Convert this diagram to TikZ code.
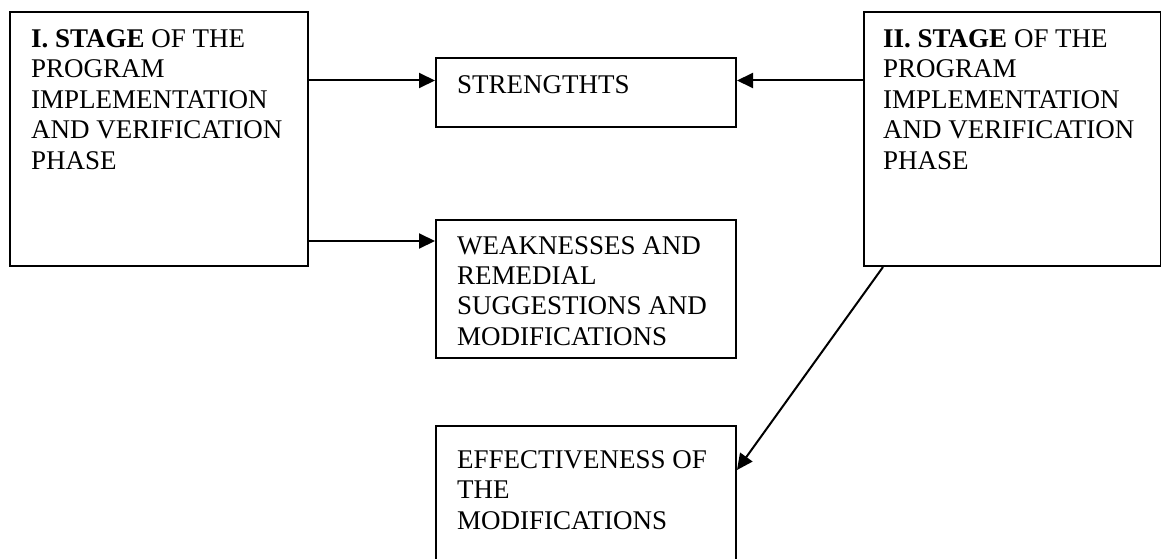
\documentclass[tikz,border=0pt]{standalone}
\usepackage{fontspec}
\setmainfont{Liberation Serif}
\usetikzlibrary{arrows.meta,calc}
\begin{document}
\begin{tikzpicture}[x=1pt,y=-1pt,
  frame/.style={draw=black,line width=2pt,rectangle,inner sep=0pt,anchor=north west},
  label/.style={anchor=north west,inner sep=0pt,align=left,font=\fontsize{27pt}{30.4pt}\selectfont},
  arr/.style={draw=black,line width=2pt,-{Triangle[length=16pt,width=15pt]}}]
\useasboundingbox (0,0) rectangle (1161,559);
% boxes
\node[frame,minimum width=298pt,minimum height=254pt] (b1) at (9,11) {};
\node[frame,minimum width=300pt,minimum height=69pt] (b2) at (435,57.5) {};
\node[frame,minimum width=300pt,minimum height=138pt] (b3) at (435,219) {};
\node[frame,minimum width=297pt,minimum height=254pt] (b4) at (863,11) {};
\node[frame,minimum width=300pt,minimum height=150pt] (b5) at (435,425) {};
% texts
\node[label] (t1) at ($(b1.north west)+(22,18.5)$) {\textbf{I. STAGE} OF THE\\PROGRAM\\IMPLEMENTATION\\AND VERIFICATION\\PHASE};
\node[label] (t2) at ($(b2.north west)+(22,18)$) {STRENGTHTS};
\node[label] (t3) at ($(b3.north west)+(22,17)$) {WEAKNESSES AND\\REMEDIAL\\SUGGESTIONS AND\\MODIFICATIONS};
\node[label] (t4) at ($(b4.north west)+(20,18.5)$) {\textbf{II. STAGE} OF THE\\PROGRAM\\IMPLEMENTATION\\AND VERIFICATION\\PHASE};
\node[label] (t5) at ($(b5.north west)+(22,25.5)$) {EFFECTIVENESS OF\\THE\\MODIFICATIONS};
% connectors
\coordinate (e1) at ($(b2.north west)+(0,23)$);
\coordinate (e2) at ($(b3.north west)+(0,22)$);
\coordinate (e3) at ($(b2.north east)+(0,23)$);
\coordinate (s4) at ($(b4.south west)+(20,0)$);
\coordinate (e4) at ($(b5.north east)+(0,45)$);
\draw[arr] (b1.east |- e1) -- (e1);
\draw[arr] (b1.east |- e2) -- (e2);
\draw[arr] (b4.west |- e3) -- (e3);
\draw[arr] (s4) -- (e4);
\end{tikzpicture}
\end{document}
